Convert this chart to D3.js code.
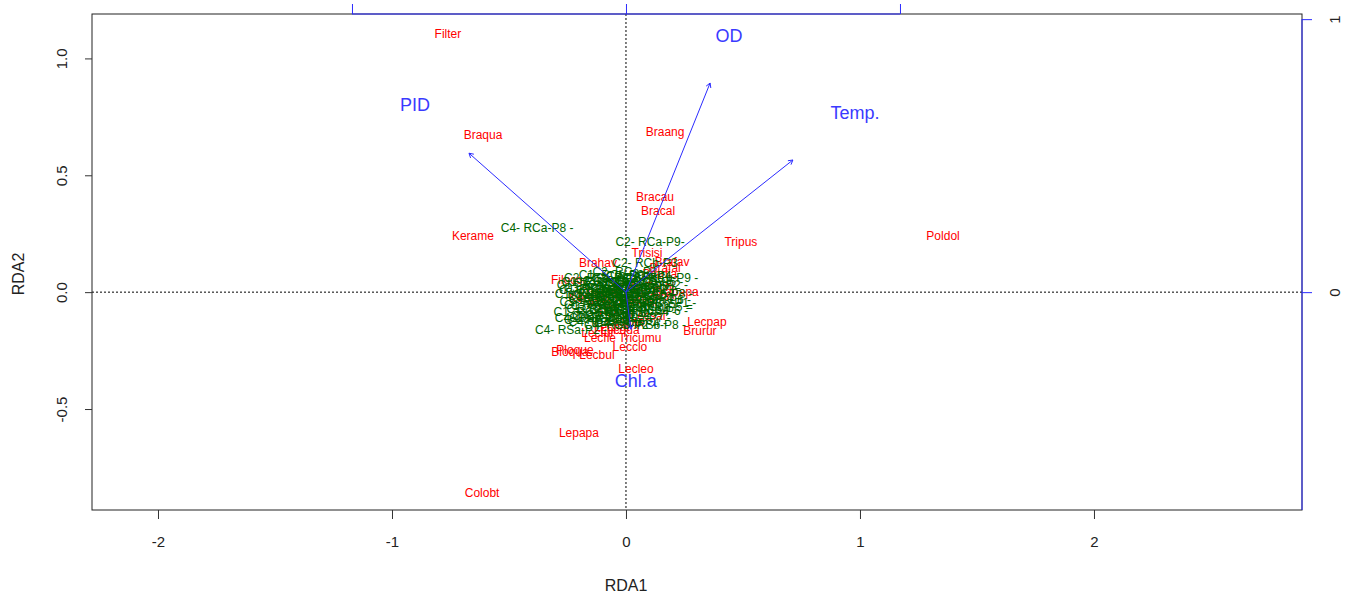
<!DOCTYPE html>
<html>
<head>
<meta charset="utf-8">
<script src="https://cdn.jsdelivr.net/npm/d3@7"></script>
<style>
  html, body { margin: 0; padding: 0; background: #fff; }
  svg { display: block; font-family: "Liberation Sans", Arial, sans-serif; }
</style>
</head>
<body>
<svg id="chart" width="1351" height="595"></svg>
<script>
// RDA triplot: species scores (red), site scores (green), environmental biplot arrows (blue)

const xTicks = [-2, -1, 0, 1, 2];
const xTickLabels = ["-2", "-1", "0", "1", "2"];
const yTicks = [-0.5, 0.0, 0.5, 1.0];
const yTickLabels = ["-0.5", "0.0", "0.5", "1.0"];
const bipTicksTop = [-1, 0, 1];
const bipTicksRight = [0, 1];
const bipTickLabelsRight = ["0", "1"];

// species scores (RDA1, RDA2)
const speciesNames = [
  "Filter", "Braqua", "Braang", "Bracau", "Bracal", "Kerame", "Tripus", "Poldol",
  "Trisisi", "Brahav", "Filoco", "Brafal", "Brafav", "Brapapa", "Lecpap", "Brurur",
  "Lecclo", "Tricumu", "Lecfur", "Lecfle", "Ploque", "Bloqua", "Lecbul", "Lecleo",
  "Lepapa", "Colobt", "Brabid", "Brafor", "Lecova", "Lecsal", "Ascpri", "Kerqua",
  "Lechas", "Trichi", "Polvul", "Hexmir", "Conuni", "Lecpat", "Bradia", "Lecqua"
];
const speciesX = [
  -0.761, -0.611, 0.167, 0.124, 0.137, -0.654, 0.491, 1.355,
  0.090, -0.120, -0.252, 0.167, 0.197, 0.214, 0.346, 0.316,
  0.017, 0.060, -0.120, -0.111, -0.218, -0.239, -0.124, 0.043,
  -0.201, -0.615, 0.017, -0.060, 0.103, 0.094, -0.090, -0.162,
  -0.004, 0.145, -0.047, 0.060, -0.120, -0.060, 0.145, -0.026
];
const speciesY = [
  1.107, 0.675, 0.688, 0.406, 0.350, 0.239, 0.214, 0.239,
  0.167, 0.124, 0.051, 0.103, 0.128, 0.000, -0.128, -0.167,
  -0.235, -0.197, -0.175, -0.197, -0.248, -0.256, -0.269, -0.329,
  -0.603, -0.859, 0.021, -0.021, -0.017, -0.103, -0.047, -0.026,
  -0.128, 0.021, -0.090, -0.043, 0.000, -0.150, 0.077, -0.162
];

// site scores (RDA1, RDA2)
const siteNames = [
  "C4- RCa-P8 -", "C2- RCa-P9-", "C2- RCb-P3", "C4- RSa-P2 -", "C1- RCa-P1 -",
  "C3- RCa-P2 -", "C1- RCb-P4 -", "C1- RSb-P5 -", "C4- RCb-P6 -", "C4- RSb-P7 -",
  "C3- RCb-P9 -", "C3- RSa-P6 -", "C2- RCb-P5 =", "C1- RSa-P8 -", "C2- RCa-P4 -",
  "C3- RSb-P1 -", "C4- RCa-P3 -", "C2- RSa-P7 -", "C1- RCb-P9 -", "C3- RCa-P5 -",
  "C4- RSa-P4 -", "C2- RSa-P1 -", "C1- RSa-P3 -", "C3- RSb-P8 -", "C4- RSb-P2 -",
  "C2- RCb-P7 -", "C1- RSb-P6 -", "C3- RCb-P3 -", "C4- RCa-P9 -", "C2- RSb-P2 -",
  "C1- RCa-P7 -", "C3- RSa-P9 -", "C4- RCb-P1 -", "C2- RCa-P6 -", "C1- RCb-P2 -",
  "C3- RCa-P7 -", "C4- RSa-P5 -", "C2- RSa-P8 -", "C1- RSb-P9 -", "C3- RSb-P4 -",
  "C1- RCa-P3 -", "C1- RCa-P5 -", "C1- RCb-P6 -", "C1- RSa-P1 -", "C1- RSb-P2 -",
  "C2- RCa-P1 -", "C2- RCb-P2 -", "C2- RCb-P8 -", "C2- RSa-P4 -", "C2- RSb-P6 -",
  "C3- RCa-P1 -", "C3- RCb-P4 -", "C3- RCb-P6 -", "C3- RSa-P3 -", "C3- RSb-P5 -",
  "C4- RCa-P2 -", "C4- RCb-P4 -", "C4- RCb-P7 -", "C4- RSa-P9 -", "C4- RSb-P3 -"
];
const siteX = [
  -0.380, 0.103, 0.081, -0.235, -0.120,
  -0.111, -0.094, -0.111, -0.090, -0.077,
  0.154, 0.124, 0.124, 0.060, 0.017,
  -0.026, -0.004, 0.038, -0.047, 0.009,
  0.081, -0.060, -0.090, 0.103, -0.026,
  0.038, -0.132, 0.081, -0.068, 0.111,
  -0.154, -0.004, 0.145, -0.034, 0.060,
  -0.068, 0.026, -0.111, -0.090, 0.060,
  -0.141, -0.030, 0.090, -0.150, -0.100,
  0.012, 0.050, 0.130, -0.020, 0.030,
  -0.080, 0.070, 0.110, -0.130, -0.045,
  -0.110, 0.020, -0.060, -0.150, 0.000
];
const siteY = [
  0.274, 0.214, 0.124, -0.162, 0.043,
  0.017, -0.017, -0.056, -0.128, -0.103,
  0.060, -0.034, -0.064, 0.026, -0.004,
  -0.034, -0.077, -0.111, 0.073, 0.060,
  -0.026, 0.009, -0.034, -0.141, -0.141,
  0.038, 0.009, 0.009, 0.038, 0.030,
  -0.085, -0.043, -0.047, -0.073, -0.064,
  -0.009, -0.017, 0.060, -0.111, -0.085,
  0.030, 0.050, 0.045, -0.005, -0.070,
  0.085, 0.015, -0.005, -0.095, -0.050,
  -0.060, 0.068, -0.080, -0.040, 0.000,
  -0.120, -0.130, -0.020, -0.110, 0.020
];

// environmental variables (biplot scale): arrow heads and label positions
const envNames = ["PID", "OD", "Temp.", "Chl.a"];
const envX = [-0.573, 0.307, 0.609, 0.018];
const envY = [0.509, 0.766, 0.484, -0.136];
const envLabelX = [-0.770, 0.376, 0.836, 0.036];
const envLabelY = [0.685, 0.938, 0.656, -0.326];

const W = 1351, H = 595;
const margin = { left: 92, right: 49, top: 14, bottom: 85 };
const plotL = margin.left, plotR = W - margin.right, plotT = margin.top, plotB = H - margin.bottom;

const x = d3.scaleLinear().domain([-2.282, 2.889]).range([plotL, plotR]);
const y = d3.scaleLinear().domain([-0.932, 1.19]).range([plotB, plotT]);
// secondary scale for the biplot arrows
const xb = d3.scaleLinear().domain([0, 1]).range([x(0), x(0) + 274]);
const yb = d3.scaleLinear().domain([0, 1]).range([y(0), y(0) - 273]);

const svg = d3.select("#chart");

svg.append("defs").append("clipPath").attr("id", "plotclip")
  .append("rect").attr("x", plotL).attr("y", plotT)
  .attr("width", plotR - plotL).attr("height", plotB - plotT);

const plot = svg.append("g").attr("clip-path", "url(#plotclip)");

// dotted reference lines through origin
plot.append("line").attr("x1", plotL).attr("x2", plotR)
  .attr("y1", y(0)).attr("y2", y(0))
  .attr("stroke", "#000").attr("stroke-width", 1).attr("stroke-dasharray", "2,2");
plot.append("line").attr("x1", x(0)).attr("x2", x(0))
  .attr("y1", plotT).attr("y2", plotB)
  .attr("stroke", "#000").attr("stroke-width", 1).attr("stroke-dasharray", "2,2");

const labelFont = 12;

// species
plot.append("g").selectAll("text").data(speciesNames).join("text")
  .attr("x", (d, i) => x(speciesX[i]))
  .attr("y", (d, i) => y(speciesY[i]))
  .attr("dy", "0.35em")
  .attr("text-anchor", "middle")
  .attr("font-size", labelFont)
  .attr("fill", "#ff0000")
  .text(d => d);

// sites
plot.append("g").selectAll("text").data(siteNames).join("text")
  .attr("x", (d, i) => x(siteX[i]))
  .attr("y", (d, i) => y(siteY[i]))
  .attr("dy", "0.35em")
  .attr("text-anchor", "middle")
  .attr("font-size", labelFont)
  .attr("fill", "#006400")
  .text(d => d);

// arrows
const arrowColor = "#2b2bff";
const arrows = plot.append("g");
envNames.forEach((name, i) => {
  const x0 = xb(0), y0 = yb(0);
  const x1 = xb(envX[i]), y1 = yb(envY[i]);
  arrows.append("line")
    .attr("x1", x0).attr("y1", y0).attr("x2", x1).attr("y2", y1)
    .attr("stroke", arrowColor).attr("stroke-width", 1);
  const ang = Math.atan2(y1 - y0, x1 - x0);
  const len = 5, spread = Math.PI / 6;
  [ang + Math.PI - spread, ang + Math.PI + spread].forEach(a => {
    arrows.append("line")
      .attr("x1", x1).attr("y1", y1)
      .attr("x2", x1 + len * Math.cos(a)).attr("y2", y1 + len * Math.sin(a))
      .attr("stroke", arrowColor).attr("stroke-width", 1);
  });
  arrows.append("text")
    .attr("x", xb(envLabelX[i])).attr("y", yb(envLabelY[i]))
    .attr("dy", "0.35em").attr("text-anchor", "middle")
    .attr("font-size", 18).attr("fill", "#3a3aff")
    .text(name);
});

// frame
svg.append("rect").attr("x", plotL).attr("y", plotT)
  .attr("width", plotR - plotL).attr("height", plotB - plotT)
  .attr("fill", "none").attr("stroke", "#222").attr("stroke-width", 1);

const tickColor = "#333";

// bottom axis
const gx = svg.append("g").attr("transform", `translate(0,${plotB})`)
  .call(d3.axisBottom(x).tickValues(xTicks).tickSize(9).tickPadding(17)
    .tickFormat((d, i) => xTickLabels[i]));
gx.select(".domain").remove();
gx.selectAll("line").attr("stroke", tickColor);
gx.selectAll("text").attr("font-size", 15).attr("fill", "#222")
  .attr("font-family", "'Liberation Sans', Arial, sans-serif");

// left axis with rotated tick labels
const gy = svg.append("g").attr("transform", `translate(${plotL},0)`)
  .call(d3.axisLeft(y).tickValues(yTicks).tickSize(7)
    .tickFormat((d, i) => yTickLabels[i]));
gy.select(".domain").remove();
gy.selectAll("line").attr("stroke", tickColor);
gy.selectAll("text")
  .attr("font-size", 15).attr("fill", "#222")
  .attr("font-family", "'Liberation Sans', Arial, sans-serif")
  .attr("text-anchor", "middle")
  .attr("x", 0).attr("dy", 0)
  .attr("transform", "translate(-25,0) rotate(-90)");

// axis titles
svg.append("text").attr("x", x(0)).attr("y", 585).attr("dy", "0.35em")
  .attr("text-anchor", "middle").attr("font-size", 16).attr("fill", "#222").text("RDA1");
svg.append("text").attr("transform", `translate(24,${(plotT + plotB) / 2 + 12}) rotate(-90)`)
  .attr("text-anchor", "middle").attr("font-size", 16).attr("fill", "#222").text("RDA2");

// top biplot axis (blue)
const gt = svg.append("g").attr("transform", `translate(0,${plotT})`)
  .call(d3.axisTop(xb).tickValues(bipTicksTop).tickSize(10).tickFormat(""));
gt.select(".domain").remove();
gt.selectAll("line").attr("stroke", "#2b2bff");
gt.append("line").attr("x1", xb(-1)).attr("x2", xb(1)).attr("y1", 0).attr("y2", 0)
  .attr("stroke", "#2b2bff");

// right biplot axis (blue)
const gr = svg.append("g").attr("transform", `translate(${plotR},0)`)
  .call(d3.axisRight(yb).tickValues(bipTicksRight).tickSize(10)
    .tickFormat((d, i) => bipTickLabelsRight[i]));
gr.select(".domain").remove();
gr.selectAll("line").attr("stroke", "#2b2bff");
gr.append("line").attr("x1", 0).attr("x2", 0).attr("y1", yb(1)).attr("y2", plotB)
  .attr("stroke", "#2b2bff");
gr.selectAll("text")
  .attr("font-size", 15).attr("fill", "#222")
  .attr("font-family", "'Liberation Sans', Arial, sans-serif")
  .attr("text-anchor", "middle").attr("x", 0).attr("dy", 0)
  .attr("transform", "translate(38,0) rotate(-90)");
</script>
</body>
</html>
